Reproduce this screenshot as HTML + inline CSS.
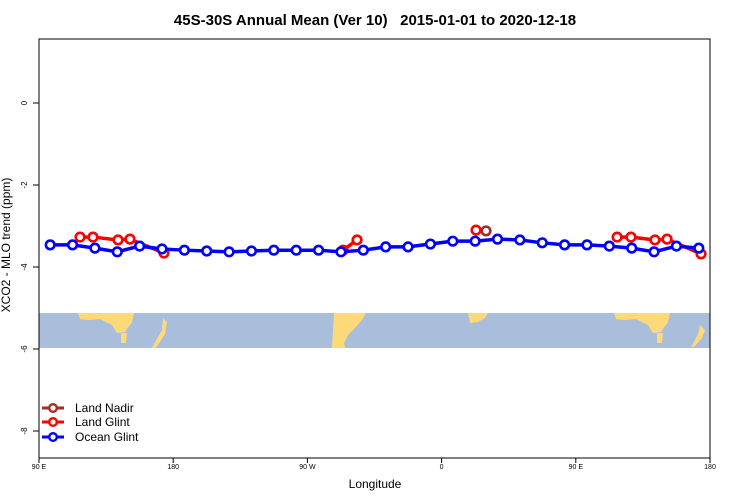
<!DOCTYPE html>
<html><head><meta charset="utf-8"><style>
body{margin:0;background:#fff;}
svg{display:block;font-family:"Liberation Sans",sans-serif;}
</style></head><body>
<svg id="chart" width="750" height="500" viewBox="0 0 750 500">
<text x="375" y="25" text-anchor="middle" font-size="15" font-weight="bold">45S-30S Annual Mean (Ver 10)&#160;&#160; 2015-01-01 to 2020-12-18</text>
<g id="map">
<rect x="39" y="313" width="671" height="35" fill="#a8bedb"/>
<path d="M78,313 L134,313 L132,322 L125,332 L117,333 L112,325 L100,319 L88,320 L80,319 Z" fill="#fdd97a"/>
<path d="M121,333 L127,333 L126,343 L121,343 Z" fill="#fdd97a"/>
<path d="M163,318 L167,322 L165,334 L158,345 L155,348 L152,348 L158,337 L162,330 Z" fill="#fdd97a"/>
<path d="M334,313 L366,313 L362,320 L355,328 L348,335 L344,343 L345,348 L332,348 L333,330 Z" fill="#fdd97a"/>
<path d="M468,313 L488,313 L485,318 L478,322 L470,323 Z" fill="#fdd97a"/>
<path d="M614,313 L670,313 L668,322 L661,332 L653,333 L648,325 L636,319 L624,320 L616,319 Z" fill="#fdd97a"/>
<path d="M657,333 L663,333 L662,343 L657,343 Z" fill="#fdd97a"/>
<path d="M700,325 L705,330 L702,338 L695,346 L691,348 L696,338 L699,331 Z" fill="#fdd97a"/>
</g>
<rect x="39" y="39" width="671" height="419" fill="none" stroke="#000" stroke-width="1"/>
<g id="yaxis"></g>
<g id="xaxis"></g>
<g id="series"></g>
<text x="375" y="488" text-anchor="middle" font-size="12">Longitude</text>
<text transform="translate(10,245) rotate(-90)" text-anchor="middle" font-size="12">XCO2 - MLO trend (ppm)</text>
<g id="legend"></g>
</svg>
<script>
const yTicks = [0, -2, -4, -6, -8];
const xTickLons = [90, 180, 270, 360, 450, 540];
const xTickLabels = ["90 E", "180", "90 W", "0", "90 E", "180"];
const oceanLons = [97.5,112.5,127.5,142.5,157.5,172.5,187.5,202.5,217.5,232.5,247.5,262.5,277.5,292.5,307.5,322.5,337.5,352.5,367.5,382.5,397.5,412.5,427.5,442.5,457.5,472.5,487.5,502.5,517.5,532.5];
const oceanVals = [-3.46,-3.46,-3.54,-3.63,-3.49,-3.56,-3.59,-3.61,-3.63,-3.61,-3.59,-3.59,-3.59,-3.63,-3.59,-3.51,-3.51,-3.44,-3.37,-3.37,-3.32,-3.34,-3.41,-3.46,-3.46,-3.49,-3.54,-3.63,-3.49,-3.54];
const landGlintLons = [[117.5,126.2,143,151,173.8],[293.9,303.3],[383.1],[477.7,487,503.1,511.2,534]];
const landGlintVals = [[-3.27,-3.27,-3.34,-3.32,-3.66],[-3.59,-3.34],[-3.10],[-3.27,-3.27,-3.34,-3.32,-3.68]];
const landNadirLons = [389.8];
const landNadirVals = [-3.12];

const NS = "http://www.w3.org/2000/svg";
const xs = lon => 39 + (lon - 90) * (671 / 450);
const ys = v => 103 - v * 41;
function mk(tag, attrs, parent){const e=document.createElementNS(NS,tag);for(const k in attrs)e.setAttribute(k,attrs[k]);parent.appendChild(e);return e;}

const ya=document.getElementById('yaxis');
yTicks.forEach(t=>{
  const l=mk('line',{x1:33,x2:39,y1:ys(t),y2:ys(t),stroke:'#000'},ya);
  
  
  const tx=mk('text',{transform:`translate(27,${ys(t)}) rotate(-90)`,'text-anchor':'middle','font-size':8},ya);
  tx.textContent=t;
  
  
});
const xa=document.getElementById('xaxis');
xTickLons.forEach((t,i)=>{
  const l=mk('line',{x1:xs(t),x2:xs(t),y1:458,y2:463,stroke:'#000'},xa);
  
  
  const tx=mk('text',{x:xs(t),y:469,'text-anchor':'middle','font-size':7},xa);
  tx.textContent=xTickLabels[i];
  
  
});
const sg=document.getElementById('series');
function drawSeries(lons, vals, color, name){
  const g=mk('g',{},sg);
  
  
  if(lons.length>1){
    const p=mk('polyline',{points:lons.map((l,i)=>xs(l)+','+ys(vals[i])).join(' '),fill:'none',stroke:color,'stroke-width':3.5},g);
    
    
  }
  lons.forEach((l,i)=>{
    const c=mk('circle',{cx:xs(l),cy:ys(vals[i]),r:4.3,fill:'#fff',stroke:color,'stroke-width':2.6},g);
    
    
  });
}
landGlintLons.forEach((ls,i)=>drawSeries(ls,landGlintVals[i],'#ff0000','land-glint'));
drawSeries(landNadirLons,landNadirVals,'#a52a2a','land-nadir');
drawSeries(oceanLons,oceanVals,'#0000ff','ocean-glint');

const lg=document.getElementById('legend');
[['Land Nadir','#a52a2a',408],['Land Glint','#ff0000',422],['Ocean Glint','#0000ff',437]].forEach(([t,c,y])=>{
  const g=mk('g',{},lg);
  
  
  mk('line',{x1:42,x2:64,y1:y,y2:y,stroke:c,'stroke-width':3},g);
  mk('circle',{cx:53,cy:y,r:3.8,fill:'#fff',stroke:c,'stroke-width':2.4},g);
  const tx=mk('text',{x:75,y:y+4,'font-size':12},g);
  tx.textContent=t;
});
</script>
</body></html>
